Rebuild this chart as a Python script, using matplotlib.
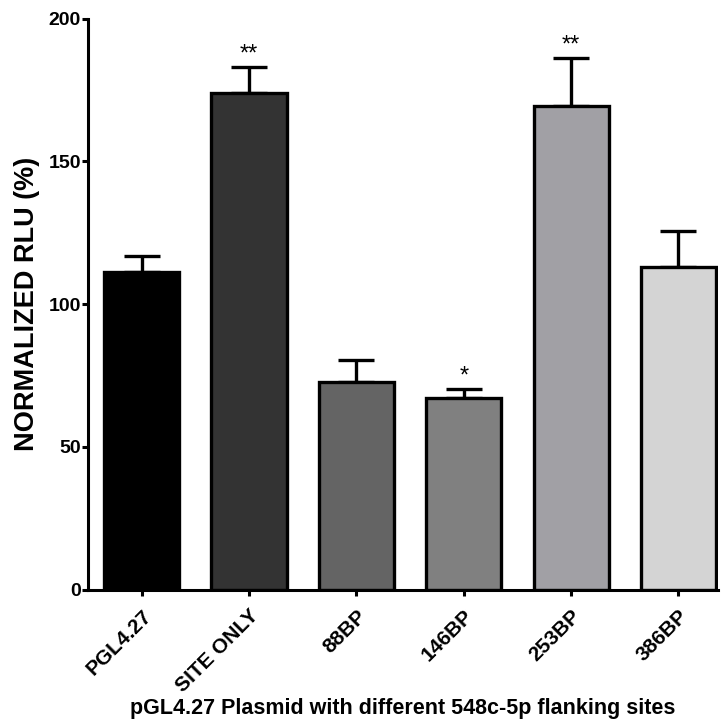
import matplotlib
matplotlib.use("Agg")
import matplotlib.pyplot as plt

plt.rcParams['font.family'] = ['Liberation Sans', 'DejaVu Sans']

categories = ["PGL4.27", "SITE ONLY", "88BP", "146BP", "253BP", "386BP"]
means = [111.3, 174.0, 72.6, 67.2, 169.5, 113.2]
errors = [5.5, 9.2, 7.8, 3.2, 16.8, 12.3]
significance = ["", "**", "", "*", "**", ""]
bar_colors = ["#000000", "#333333", "#646464", "#808080", "#a1a0a5", "#d4d4d4"]

fig = plt.figure(figsize=(7.24, 7.20), dpi=100)
ax = fig.add_axes([0.1215, 0.181, 0.8705, 0.793])

x = list(range(len(categories)))
ax.bar(x, means, width=0.7, color=bar_colors, edgecolor="black", linewidth=2.4,
       zorder=2)
ax.errorbar(x, means, yerr=[[0] * len(errors), errors], fmt="none",
            ecolor="black", elinewidth=2.4, capsize=13, capthick=2.4, zorder=1)

for xi, m, e, s in zip(x, means, errors, significance):
    if s:
        ax.text(xi, m + e + 0.3, s, ha="center", va="bottom", fontsize=17)

ax.set_xlim(-0.5, 5.37)
ax.set_ylim(0, 200)
ax.set_yticks([0, 50, 100, 150, 200])
ax.set_xticks(x)
ax.set_xticklabels(categories, rotation=45, ha="right", rotation_mode="anchor",
                   fontsize=15, fontweight="bold")
for lbl in ax.get_yticklabels():
    lbl.set_fontsize(14)
    lbl.set_fontweight("bold")

ax.spines["top"].set_visible(False)
ax.spines["right"].set_visible(False)
ax.spines["left"].set_linewidth(2.2)
ax.spines["bottom"].set_linewidth(2.2)
ax.tick_params(axis="both", direction="out", length=4.5, width=2.2)
ax.tick_params(axis="y", pad=0.5)
ax.tick_params(axis="x", pad=7.5)

ax.set_ylabel("NORMALIZED RLU (%)", fontsize=19.5, fontweight="bold", labelpad=6)
ax.set_xlabel("pGL4.27 Plasmid with different 548c-5p flanking sites",
              fontsize=15.5, fontweight="bold")
# the title line sits just under the slanted category names
ax.xaxis.set_label_coords(0.5, -0.189)

fig.savefig("out.png", dpi=100)
